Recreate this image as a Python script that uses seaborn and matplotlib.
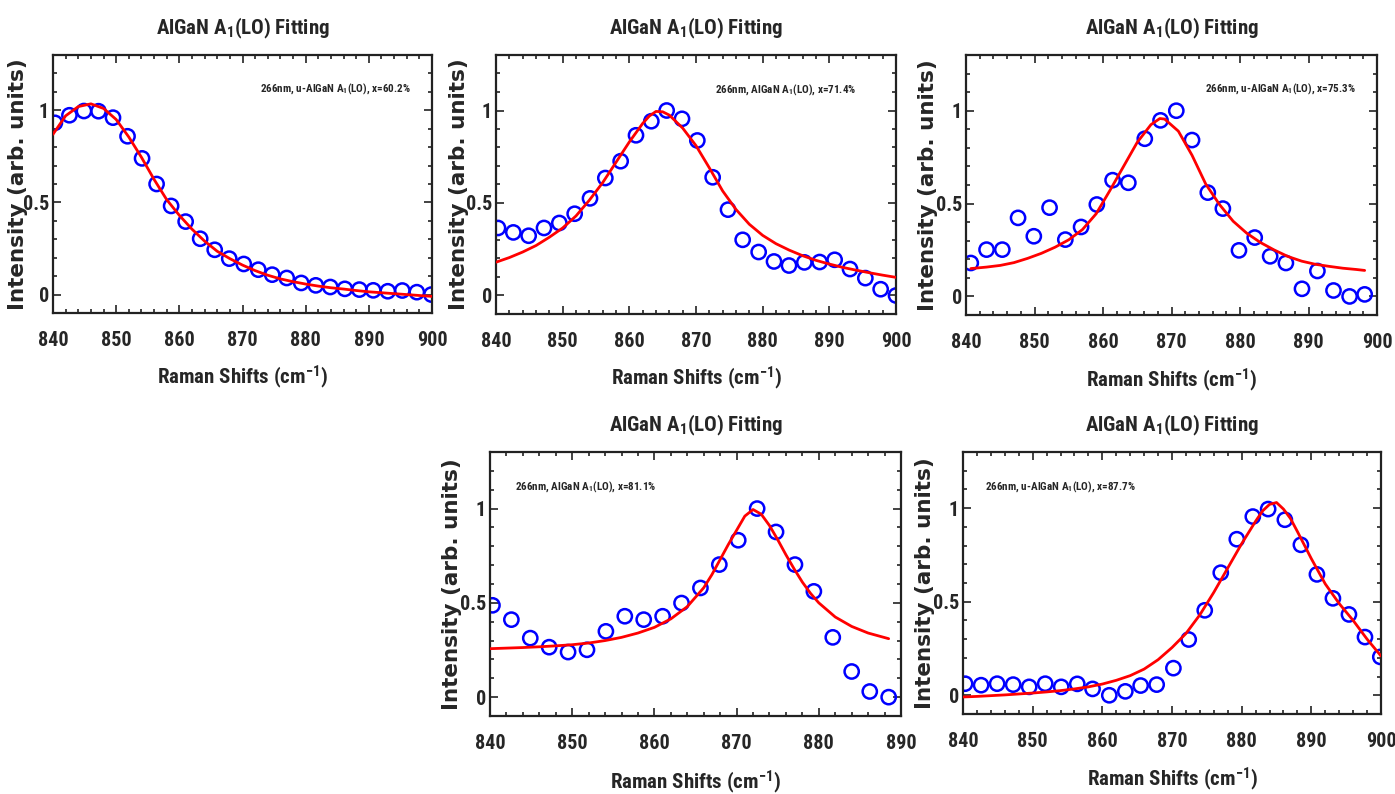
import numpy as np
import pandas as pd
import seaborn as sns
import matplotlib.pyplot as plt
from matplotlib.ticker import MultipleLocator

# ---- data ----
# panel 1: x = 60.2%
p1_x = [840.3, 842.6, 844.9, 847.2, 849.5, 851.8, 854.1, 856.4, 858.7, 861.0, 863.3, 865.6, 867.9, 870.2,
        872.5, 874.7, 877.0, 879.3, 881.6, 883.9, 886.2, 888.5, 890.7, 893.0, 895.3, 897.6, 899.9]
p1_y = [0.932, 0.973, 0.996, 0.995, 0.960, 0.859, 0.739, 0.600, 0.481, 0.396, 0.303, 0.243, 0.195, 0.166,
        0.135, 0.108, 0.090, 0.063, 0.050, 0.041, 0.031, 0.027, 0.023, 0.018, 0.022, 0.013, 0.0]
p1_fit_x = [840, 842, 844, 846, 848, 850, 852, 854, 856, 858, 860, 862, 864, 866, 868, 870, 872, 874, 876,
            878, 880, 882, 884, 886, 888, 890, 892, 894, 896, 898, 900]
p1_fit_y = [0.87, 0.97, 1.02, 1.035, 1.01, 0.95, 0.855, 0.745, 0.625, 0.515, 0.43, 0.355, 0.29, 0.235,
            0.195, 0.16, 0.13, 0.105, 0.085, 0.07, 0.057, 0.046, 0.037, 0.03, 0.022, 0.015, 0.01, 0.005,
            0.0, -0.005, -0.01]

# panel 2: x = 71.4%
p2_x = [840.3, 842.6, 844.9, 847.2, 849.5, 851.8, 854.1, 856.4, 858.7, 861.0, 863.3, 865.6, 867.9, 870.2,
        872.5, 874.8, 877.0, 879.4, 881.7, 883.95, 886.25, 888.55, 890.8, 893.1, 895.4, 897.7, 900.0]
p2_y = [0.365, 0.341, 0.323, 0.365, 0.392, 0.442, 0.525, 0.635, 0.726, 0.866, 0.942, 1.0, 0.955, 0.838,
        0.639, 0.464, 0.301, 0.235, 0.184, 0.162, 0.179, 0.181, 0.193, 0.143, 0.094, 0.034, 0.0]
p2_fit_x = [840, 842, 844, 846, 848, 850, 852, 854, 856, 858, 860, 862, 863, 864, 865, 866, 868, 870, 872,
            874, 876, 878, 880, 882, 884, 886, 888, 890, 892, 894, 896, 898, 900]
p2_fit_y = [0.18, 0.205, 0.235, 0.27, 0.315, 0.365, 0.43, 0.515, 0.61, 0.72, 0.83, 0.93, 0.97, 0.995,
            0.993, 0.975, 0.905, 0.81, 0.69, 0.565, 0.465, 0.385, 0.325, 0.28, 0.245, 0.215, 0.19, 0.17,
            0.152, 0.137, 0.123, 0.11, 0.098]

# panel 3: x = 75.3%
p3_x = [840.7, 843.0, 845.3, 847.6, 849.9, 852.2, 854.5, 856.8, 859.1, 861.4, 863.7, 866.1, 868.4, 870.7,
        873.0, 875.3, 877.5, 879.85, 882.15, 884.4, 886.7, 889.05, 891.3, 893.65, 896.0, 898.2]
p3_y = [0.180, 0.252, 0.252, 0.423, 0.324, 0.478, 0.306, 0.374, 0.495, 0.626, 0.612, 0.849, 0.948, 1.0,
        0.842, 0.559, 0.473, 0.248, 0.317, 0.216, 0.180, 0.041, 0.137, 0.032, 0.0, 0.011]
p3_fit_x = [840.7, 843, 845, 847, 849, 851, 853, 855, 857, 859, 861, 863, 865, 867, 868.3, 869, 871, 873,
            875, 877, 879, 881, 883, 885, 887, 889, 891, 893, 895, 897, 898.2]
p3_fit_y = [0.15, 0.158, 0.167, 0.182, 0.205, 0.232, 0.265, 0.305, 0.36, 0.445, 0.57, 0.70, 0.83, 0.925,
            0.958, 0.955, 0.89, 0.76, 0.605, 0.495, 0.405, 0.34, 0.29, 0.25, 0.215, 0.19, 0.173, 0.162,
            0.152, 0.145, 0.14]

# panel 4: x = 81.1%
p4_x = [840.3, 842.6, 844.9, 847.2, 849.5, 851.8, 854.1, 856.4, 858.7, 861.0, 863.3, 865.6, 867.9, 870.2,
        872.5, 874.8, 877.1, 879.4, 881.7, 884.0, 886.2, 888.5]
p4_y = [0.487, 0.411, 0.313, 0.265, 0.239, 0.251, 0.349, 0.429, 0.411, 0.429, 0.499, 0.579, 0.703, 0.832,
        1.0, 0.876, 0.703, 0.561, 0.317, 0.136, 0.030, 0.0]
p4_fit_x = [840, 842, 844, 846, 848, 850, 852, 854, 856, 858, 860, 862, 864, 866, 867, 868, 869, 870, 871,
            872, 873, 874, 875, 876, 877, 878, 879, 880, 882, 884, 886, 888.5]
p4_fit_y = [0.257, 0.26, 0.263, 0.267, 0.272, 0.278, 0.287, 0.30, 0.317, 0.34, 0.37, 0.415, 0.48, 0.58,
            0.65, 0.73, 0.81, 0.885, 0.96, 0.995, 0.97, 0.91, 0.835, 0.755, 0.68, 0.61, 0.55, 0.5, 0.425,
            0.375, 0.34, 0.31]

# panel 5: x = 87.7%
p5_x = [840.3, 842.6, 844.9, 847.2, 849.5, 851.8, 854.1, 856.4, 858.6, 861.0, 863.3, 865.5, 867.8, 870.2,
        872.4, 874.7, 877.0, 879.3, 881.6, 883.8, 886.2, 888.5, 890.8, 893.1, 895.4, 897.7, 899.9]
p5_y = [0.062, 0.054, 0.062, 0.057, 0.045, 0.062, 0.045, 0.061, 0.034, 0.0, 0.021, 0.052, 0.057, 0.145,
        0.298, 0.454, 0.655, 0.834, 0.955, 0.995, 0.938, 0.804, 0.646, 0.518, 0.432, 0.311, 0.205]
p5_fit_x = [840, 842, 844, 846, 848, 850, 852, 854, 856, 858, 860, 862, 864, 866, 868, 870, 872, 874, 876,
            878, 880, 882, 883, 884, 885, 886, 887, 888, 890, 892, 894, 896, 898, 900]
p5_fit_y = [-0.009, -0.006, -0.002, 0.002, 0.007, 0.012, 0.018, 0.025, 0.034, 0.045, 0.06, 0.08, 0.105,
            0.14, 0.19, 0.255, 0.33, 0.43, 0.55, 0.68, 0.81, 0.93, 0.985, 1.02, 1.03, 0.995, 0.945, 0.875,
            0.73, 0.595, 0.49, 0.4, 0.3, 0.21]

notes = ["266nm, u-AlGaN A$_1$(LO), x=60.2%",
         "266nm, AlGaN A$_1$(LO), x=71.4%",
         "266nm, u-AlGaN A$_1$(LO), x=75.3%",
         "266nm, AlGaN A$_1$(LO), x=81.1%",
         "266nm, u-AlGaN A$_1$(LO), x=87.7%"]
x_max = [900, 900, 900, 890, 900]

# ---- style ----
sns.set_style("ticks")
plt.rcParams["font.family"] = ["Roboto Condensed", "Liberation Sans", "DejaVu Sans"]
plt.rcParams["font.weight"] = "bold"
plt.rcParams["mathtext.default"] = "regular"

W, H = 1395, 794
fig = plt.figure(figsize=(W / 100, H / 100), dpi=100)

# axes boxes in pixels: left, top, right, bottom
boxes = [(53, 55, 432, 313), (496, 55, 896, 314), (966, 55, 1377, 315),
         (490, 452, 901, 716), (963, 452, 1381, 714)]
note_pos = [(0.547, 0.87), (0.548, 0.865), (0.582, 0.87), (0.061, 0.868), (0.053, 0.868)]

panels = [(p1_x, p1_y, p1_fit_x, p1_fit_y), (p2_x, p2_y, p2_fit_x, p2_fit_y),
          (p3_x, p3_y, p3_fit_x, p3_fit_y), (p4_x, p4_y, p4_fit_x, p4_fit_y),
          (p5_x, p5_y, p5_fit_x, p5_fit_y)]

for i, (px, py, fx, fy) in enumerate(panels):
    l, t, r, b = boxes[i]
    ax = fig.add_axes([l / W, 1 - b / H, (r - l) / W, (b - t) / H])
    fit = pd.DataFrame({"shift": fx, "intensity": fy})
    pts = pd.DataFrame({"shift": px, "intensity": py})
    sns.scatterplot(data=pts, x="shift", y="intensity", ax=ax, marker="o", s=105,
                    facecolors="none", edgecolors="blue", linewidths=1.8, zorder=2)
    sns.lineplot(data=fit, x="shift", y="intensity", ax=ax, color="red", lw=2.0,
                 sort=False, estimator=None, zorder=3)
    ax.set_xlim(840, x_max[i])
    ax.set_ylim(-0.1, 1.3)
    ax.set_yticks([0, 0.5, 1])
    ax.set_yticklabels(["0", "0.5", "1"])
    ax.xaxis.set_major_locator(MultipleLocator(10))
    ax.xaxis.set_minor_locator(MultipleLocator(2))
    ax.yaxis.set_minor_locator(MultipleLocator(0.1))
    ax.tick_params(which="both", direction="in", top=True, right=True, width=1.2, color="#222222")
    ax.tick_params(which="major", length=6, labelsize=14.5)
    ax.tick_params(which="minor", length=3)
    ax.tick_params(axis="x", pad=13)
    ax.tick_params(axis="y", pad=3)
    for s in ax.spines.values():
        s.set_linewidth(1.6)
        s.set_color("#222222")
    ax.set_title("AlGaN A$_1$(LO) Fitting", fontsize=15, fontweight="bold", pad=15)
    ax.set_xlabel("Raman Shifts (cm$^{-1}$)", fontsize=15, fontweight="bold", va="center")
    ax.xaxis.set_label_coords(0.5, -0.25)
    ax.set_ylabel("Intensity (arb. units)", fontsize=15.5, fontweight="bold",
                  family="DejaVu Sans", va="center")
    ax.yaxis.set_label_coords(-0.092, 0.5)
    ax.text(note_pos[i][0], note_pos[i][1], notes[i], transform=ax.transAxes,
            fontsize=8, fontweight="bold", ha="left", va="center")

fig.savefig("out.png", dpi=100)
